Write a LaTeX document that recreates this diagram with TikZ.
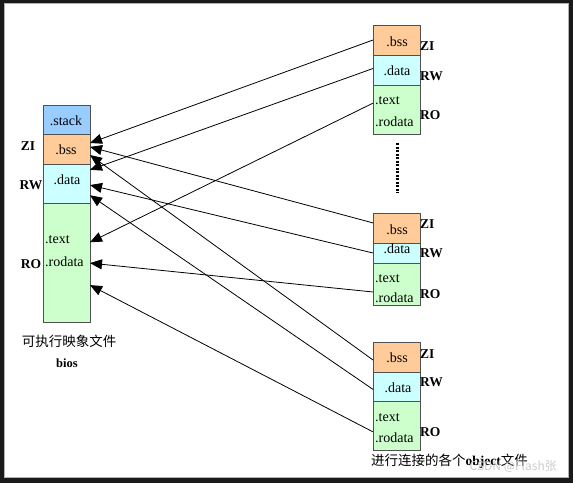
\documentclass[tikz,border=0pt]{standalone}
\usepackage{fontspec}
\setmainfont{Liberation Serif}
\newfontfamily\cjk{Noto Sans CJK SC}
\usetikzlibrary{arrows.meta,calc}
\definecolor{frame}{HTML}{1A1A1A}
\definecolor{edge}{HTML}{505050}
\definecolor{cstack}{HTML}{99CCFF}
\definecolor{cbss}{HTML}{FFCC99}
\definecolor{cdata}{HTML}{CCFFFF}
\definecolor{ctext}{HTML}{CCFFCC}
\tikzset{
  sec/.style={draw=edge, line width=0.8pt, inner sep=0pt, outer sep=0pt, anchor=north west, minimum width=#1},
  sec/.default=47pt,
  lbl/.style={inner sep=0pt, font=\fontsize{14}{16}\selectfont},
  tag/.style={inner sep=0pt, font=\fontsize{13.5}{16}\selectfont\bfseries},
  arr/.style={line width=0.8pt, -{Triangle[length=12pt,width=10pt]}},
}
\begin{document}
\begin{tikzpicture}[x=1pt,y=-1pt]
\useasboundingbox (0,0) rectangle (573,483);
\fill[frame] (0,0) rectangle (573,483);
\fill[white, draw=gray!60] (4,3) rectangle (568,477);

% left block
\node[sec, fill=cstack, minimum height=29pt] (lstack) at (43,105) {};
\node[sec, fill=cbss, minimum height=30pt] (lbss) at (43,134) {};
\node[sec, fill=cdata, minimum height=39pt] (ldata) at (43,164) {};
\node[sec, fill=ctext, minimum height=119pt] (ltext) at (43,203) {};
\node[lbl] (t1) at (66,121) {.stack};
\node[lbl] (t2) at (66,150) {.bss};
\node[lbl] (t3) at (67,180) {.data};
\node[lbl, anchor=west] (t4) at (45,240) {.text};
\node[lbl, anchor=west] (t5) at (45,262) {.rodata};
\node[tag] (g1) at (28,146) {ZI};
\node[tag] (g2) at (31,185) {RW};
\node[tag] (g3) at (31,264) {RO};
\node[inner sep=0pt, font=\cjk\fontsize{13.5}{15}\selectfont] (cap1) at (69,341) {可执行映象文件};
\node[tag, font=\fontsize{12.5}{14}\selectfont\bfseries] (cap2) at (67,363) {bios};

% right top block
\node[sec, fill=cbss, minimum height=30pt] (tbss) at (373,25) {};
\node[sec, fill=cdata, minimum height=30pt] (tdata) at (373,55) {};
\node[sec, fill=ctext, minimum height=49pt] (ttext) at (373,85) {};
\node[lbl] (a1) at (397,42) {.bss};
\node[lbl] (a2) at (397,71) {.data};
\node[lbl, anchor=west] (a3) at (375,101) {.text};
\node[lbl, anchor=west] (a4) at (375,122) {.rodata};
\node[tag, anchor=west] (ag1) at (420,46) {ZI};
\node[tag, anchor=west] (ag2) at (420,76) {RW};
\node[tag, anchor=west] (ag3) at (420,115) {RO};

% dots
\coordinate (d1) at (397,143);
\coordinate (d2) at (397,193);
\draw[line width=3pt, dash pattern=on 2pt off 1.5pt] (d1) -- (d2);

% right middle block
\node[sec, fill=cbss, minimum height=30pt] (mbss) at (373,213) {};
\node[sec, fill=cdata, minimum height=20pt] (mdata) at (373,243) {};
\node[sec, fill=ctext, minimum height=42pt] (mtext) at (373,263) {};
\node[lbl] (b1) at (397,230) {.bss};
\node[lbl] (b2) at (397,249) {.data};
\node[lbl, anchor=west] (b3) at (375,279) {.text};
\node[lbl, anchor=west] (b4) at (375,298) {.rodata};
\node[tag, anchor=west] (bg1) at (420,224) {ZI};
\node[tag, anchor=west] (bg2) at (420,253) {RW};
\node[tag, anchor=west] (bg3) at (420,294) {RO};

% right bottom block
\node[sec, fill=cbss, minimum height=30pt] (bbss) at (373,342) {};
\node[sec, fill=cdata, minimum height=29pt] (bdata) at (373,372) {};
\node[sec, fill=ctext, minimum height=49pt] (btext) at (373,401) {};
\node[lbl] (c1) at (397,358) {.bss};
\node[lbl] (c2) at (398,388) {.data};
\node[lbl, anchor=west] (c3) at (375,418) {.text};
\node[lbl, anchor=west] (c4) at (375,438) {.rodata};
\node[tag, anchor=west] (cg1) at (420,354) {ZI};
\node[tag, anchor=west] (cg2) at (420,382) {RW};
\node[tag, anchor=west] (cg3) at (420,432) {RO};
\node[inner sep=0pt, anchor=west, font=\fontsize{13.5}{15}\selectfont] (cap3) at (371,461) {{\cjk 进行连接的各个}\textbf{object}{\cjk 文件}};

% watermark
\node[inner sep=0pt, anchor=east, text=gray!40, font=\cjk\fontsize{12}{14}\selectfont] (wm) at (557,467) {CSDN @Flash张};

% arrows
\draw[arr] (tbss.west) -- ($(lbss.north east)!0.3!(lbss.south east)$);
\draw[arr] ($(mbss.north west)!0.33!(mbss.south west)$) -- ($(lbss.north east)!0.43!(lbss.south east)$);
\draw[arr] ($(bbss.north west)!0.6!(bbss.south west)$) -- ($(lbss.north east)!0.7!(lbss.south east)$);
\draw[arr] ($(tdata.north west)!0.45!(tdata.south west)$) -- ($(ldata.north east)!0.15!(ldata.south east)$);
\draw[arr] (mdata.west) -- ($(ldata.north east)!0.54!(ldata.south east)$);
\draw[arr] ($(bdata.north west)!0.6!(bdata.south west)$) -- ($(ldata.north east)!0.8!(ldata.south east)$);
\draw[arr] ($(ttext.north west)!0.37!(ttext.south west)$) -- ($(ltext.north east)!0.33!(ltext.south east)$);
\draw[arr] ($(mtext.north west)!0.69!(mtext.south west)$) -- ($(ltext.north east)!0.505!(ltext.south east)$);
\draw[arr] ($(btext.north west)!0.63!(btext.south west)$) -- ($(ltext.north east)!0.69!(ltext.south east)$);
\end{tikzpicture}
\end{document}
